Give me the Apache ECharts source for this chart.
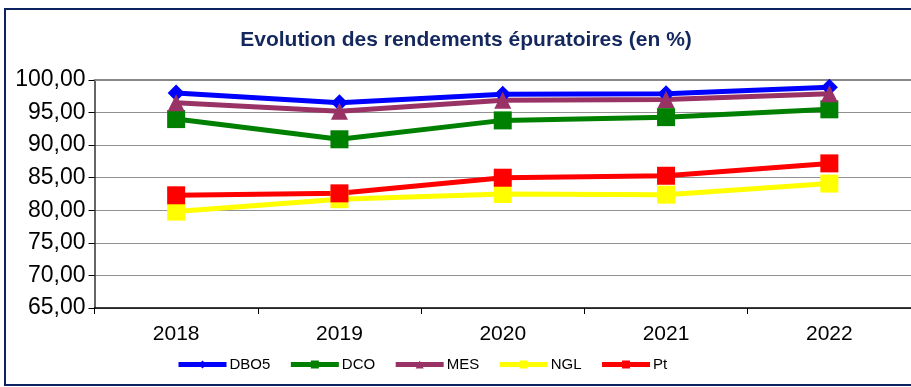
<!DOCTYPE html>
<html>
<head>
<meta charset="utf-8">
<script src="https://cdn.jsdelivr.net/npm/echarts@6/dist/echarts.min.js"></script>
<style>
  html, body { margin: 0; padding: 0; background: #ffffff; }
  #frame {
    position: absolute; left: 4px; top: 8px; width: 940px; height: 374px;
    border: 2px solid #0d2260; box-sizing: content-box;
  }
  #chart { position: absolute; left: 0; top: 0; width: 911px; height: 387px; }
</style>
</head>
<body>
<div id="frame"></div>
<div id="chart"></div>
<script>
// Years on the horizontal axis
const years = ['2018', '2019', '2020', '2021', '2022'];

// Treatment efficiency per parameter (%)
const dbo5 = [98.0, 96.5, 97.8, 97.9, 98.9];
const dco  = [94.0, 90.9, 93.8, 94.3, 95.5];
const mes  = [96.5, 95.2, 96.9, 97.0, 97.9];
const ngl  = [79.8, 81.7, 82.5, 82.4, 84.1];
const pt   = [82.3, 82.6, 85.0, 85.3, 87.2];

const yMin = 65, yMax = 100, yStep = 5;

const chart = echarts.init(document.getElementById('chart'), null, { renderer: 'canvas' });

function line(name, data, color, symbol, size) {
  return {
    name, type: 'line', data,
    symbol, symbolSize: size,
    lineStyle: { color, width: 5 },
    itemStyle: { color },
    emphasis: { disabled: true },
    animation: false
  };
}

chart.setOption({
  backgroundColor: 'transparent',
  textStyle: { fontFamily: 'Liberation Sans, Arial, sans-serif' },
  title: {
    text: 'Evolution des rendements épuratoires (en %)',
    left: 461, top: 25, textAlign: 'center',
    textStyle: { fontSize: 21, fontWeight: 'bold', color: '#14285e', fontFamily: 'Liberation Sans, Arial, sans-serif' }
  },
  legend: {
    left: 176, top: 357, padding: 0,
    itemWidth: 48, itemHeight: 10, itemGap: 18,
    lineStyle: { width: 5 },
    textStyle: { fontSize: 15, color: '#000', padding: [0, 0, 0, -2] },
    data: ['DBO5', 'DCO', 'MES', 'NGL', 'Pt']
  },
  grid: { left: 94.5, right: -1, top: 80, bottom: 79, containLabel: false },
  xAxis: [{
    type: 'category', data: years, boundaryGap: true,
    axisLine: { lineStyle: { color: '#000', width: 1.5 } },
    axisTick: { show: true, length: 6, lineStyle: { color: '#000' } },
    axisLabel: { fontSize: 21, color: '#000', margin: 16 }
  }, {
    type: 'category', data: years, position: 'top',
    axisLine: { lineStyle: { color: '#888', width: 2 } },
    axisTick: { show: false }, axisLabel: { show: false }
  }],
  yAxis: {
    type: 'value', min: yMin, max: yMax, interval: yStep,
    axisLine: { show: true, lineStyle: { color: '#333', width: 1.5 } },
    axisTick: { show: true, length: 6, lineStyle: { color: '#000' } },
    axisLabel: {
      fontSize: 23, color: '#000', margin: 9,
      formatter: v => v.toFixed(2).replace('.', ',')
    },
    splitLine: {
      show: true,
      lineStyle: { color: '#222', type: [1, 1], width: 1 }
    }
  },
  series: [
    line('DBO5', dbo5, '#0000ff', 'diamond', 17),
    line('DCO', dco, '#008000', 'rect', 18),
    line('MES', mes, '#993366', 'triangle', 17),
    line('NGL', ngl, '#ffff00', 'rect', 18),
    line('Pt', pt, '#ff0000', 'rect', 18)
  ]
});
</script>
</body>
</html>
